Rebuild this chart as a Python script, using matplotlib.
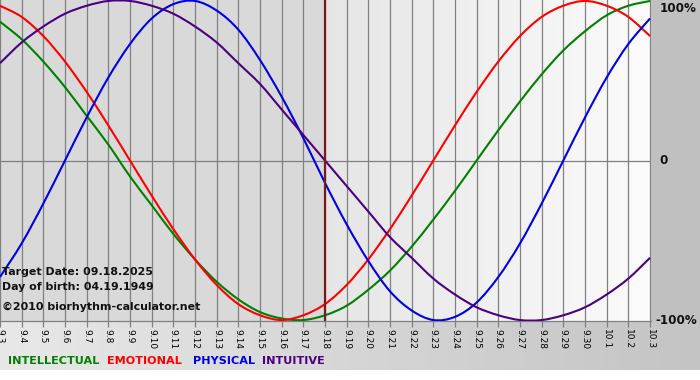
import numpy as np
import matplotlib
matplotlib.use("Agg")
import matplotlib.pyplot as plt
from matplotlib.path import Path
from matplotlib.patches import PathPatch
from matplotlib.transforms import blended_transform_factory

# ---- data -------------------------------------------------------------
days = ["9.3", "9.4", "9.5", "9.6", "9.7", "9.8", "9.9", "9.10", "9.11", "9.12",
        "9.13", "9.14", "9.15", "9.16", "9.17", "9.18", "9.19", "9.20", "9.21",
        "9.22", "9.23", "9.24", "9.25", "9.26", "9.27", "9.28", "9.29", "9.30",
        "10.1", "10.2", "10.3"]
target_day = "9.18"

intellectual = [0.87, 0.76, 0.62, 0.46, 0.28, 0.10, -0.10, -0.28, -0.46, -0.62,
                -0.76, -0.87, -0.95, -0.99, -1.00, -0.97, -0.91, -0.81, -0.69,
                -0.54, -0.37, -0.19, 0.00, 0.19, 0.37, 0.54, 0.69, 0.81, 0.91,
                0.97, 1.00]
emotional = [0.97, 0.90, 0.78, 0.62, 0.43, 0.22, 0.00, -0.22, -0.43, -0.62,
             -0.78, -0.90, -0.97, -1.00, -0.97, -0.90, -0.78, -0.62, -0.43,
             -0.22, 0.00, 0.22, 0.43, 0.62, 0.78, 0.90, 0.97, 1.00, 0.97,
             0.90, 0.78]
physical = [-0.73, -0.52, -0.27, 0.00, 0.27, 0.52, 0.73, 0.89, 0.98, 1.00,
            0.94, 0.82, 0.63, 0.40, 0.14, -0.14, -0.40, -0.63, -0.82, -0.94,
            -1.00, -0.98, -0.89, -0.73, -0.52, -0.27, 0.00, 0.27, 0.52, 0.73,
            0.89]
intuitive = [0.61, 0.74, 0.84, 0.92, 0.97, 1.00, 1.00, 0.97, 0.92, 0.84,
             0.74, 0.61, 0.48, 0.32, 0.16, 0.00, -0.16, -0.32, -0.48, -0.61,
             -0.74, -0.84, -0.92, -0.97, -1.00, -1.00, -0.97, -0.92, -0.84,
             -0.74, -0.61]

series_names = ["INTELLECTUAL", "EMOTIONAL", "PHYSICAL", "INTUITIVE"]
series_colors = ["#008000", "#ff0000", "#0000e6", "#4b0082"]
info_lines = ["Target Date: 09.18.2025", "Day of birth: 04.19.1949",
              "\u00a92010 biorhythm-calculator.net"]
y_labels = ["100%", "0", "-100%"]


def smooth_path(xs, ys):
    """Smooth (Catmull-Rom style) Bezier path through the data points."""
    pts = np.column_stack([xs, ys]).astype(float)
    n = len(pts)
    verts = [pts[0]]
    codes = [Path.MOVETO]
    for i in range(n - 1):
        p0 = pts[i - 1] if i > 0 else pts[i]
        p1 = pts[i]
        p2 = pts[i + 1]
        p3 = pts[i + 2] if i + 2 < n else pts[i + 1]
        c1 = p1 + (p2 - p0) / 6.0
        c2 = p2 - (p3 - p1) / 6.0
        verts += [c1, c2, p2]
        codes += [Path.CURVE4] * 3
    return Path(verts, codes)


# ---- figure -----------------------------------------------------------
W, H = 700, 380
fig = plt.figure(figsize=(W / 100, H / 100), dpi=100)

# figure background
bg = np.ones((H, W, 3))
bg[:321, :, :] = 192 / 255
grad = np.linspace(232, 196, W) / 255
bg[321:370, :, :] = grad[None, :, None]
bg[370:, :, :] = 1.0
bgax = fig.add_axes([0, 0, 1, 1], zorder=-10)
bgax.imshow(bg, aspect="auto", extent=(0, W, H, 0))
bgax.set_xlim(0, W)
bgax.set_ylim(H, 0)
bgax.axis("off")

# plot axes
pl, pr, pt, pb = 0, 651, 0, 321
ax = fig.add_axes([pl / W, (H - pb) / H, (pr - pl) / W, (pb - pt) / H])
x = np.arange(len(days))
ti = days.index(target_day)
xmax = (len(days) - 1) * 651 / 650
ymin, ymax = -1.006, 1.006

# plot backgrounds: past darker, future gradient
ax.axvspan(0, ti, color="#d9d9d9", zorder=0, lw=0)
g = np.linspace(0.90, 0.985, 256)[None, :]
ax.imshow(np.dstack([g, g, g]), extent=(ti, xmax, ymin, ymax),
          aspect="auto", zorder=0.5)
ax.set_xlim(0, xmax)
ax.set_ylim(ymin, ymax)

# grid
for xi in x:
    ax.axvline(xi, color="#808080", lw=0.9, zorder=1)
ax.axhline(0, color="#808080", lw=0.9, zorder=1)

# curves
for vals, c in zip([intellectual, emotional, physical, intuitive], series_colors):
    ax.add_patch(PathPatch(smooth_path(x, vals), facecolor="none", edgecolor=c,
                           lw=1.5, zorder=3, joinstyle="round"))

# target line
ax.axvline(ti, color="#7a1a1a", lw=1.6, zorder=4)

for s in ["top", "left", "right"]:
    ax.spines[s].set_visible(False)
ax.spines["bottom"].set_color("#808080")
ax.spines["bottom"].set_linewidth(0.9)
ax.set_yticks([])
ax.set_xticks(x)
ax.set_xticklabels(days, rotation=-90, fontsize=6.5, color="black")
ax.tick_params(axis="x", length=4, width=0.9, color="#808080", pad=1.5)
ax.patch.set_alpha(0)

# right side labels
tr = blended_transform_factory(fig.transFigure, ax.transData)
ax.text(660 / W, ymax - 0.01, y_labels[0], transform=tr, ha="left", va="top",
        fontsize=8.6, fontweight="bold", color="#111111", clip_on=False)
ax.text(659 / W, 0, y_labels[1], transform=tr, ha="left", va="center",
        fontsize=8.6, fontweight="bold", color="#111111", clip_on=False)
ax.text(655 / W, -1.0, y_labels[2], transform=tr, ha="left", va="center",
        fontsize=8.6, fontweight="bold", color="#111111", clip_on=False)

# info text
for line, yp in zip(info_lines, [272, 287, 307]):
    fig.text(2 / W, 1 - yp / H, line, ha="left", va="center", fontsize=7.9,
             fontweight="bold", color="#111111", zorder=5)

# legend
for name, c, xp in zip(series_names, series_colors, [8, 107, 193, 262]):
    fig.text(xp / W, 1 - 361 / H, name, ha="left", va="center", fontsize=8.1,
             fontweight="bold", color=c)

fig.savefig("out.png", dpi=100)
